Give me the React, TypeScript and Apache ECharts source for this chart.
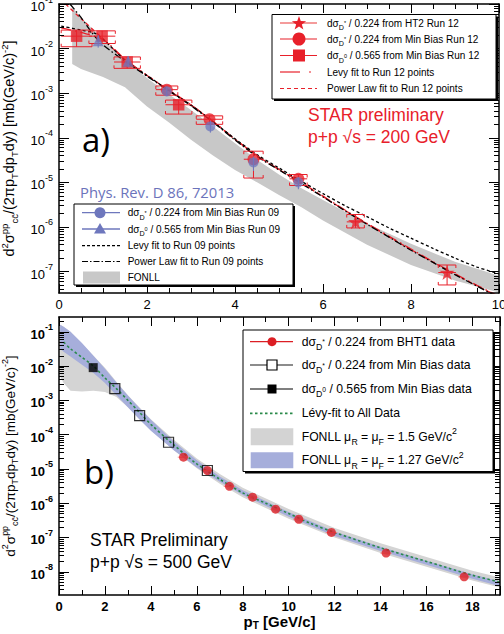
import React, { useEffect, useRef } from 'react';
import * as echarts from 'echarts';

const FONT = "'Liberation Sans', Arial, Helvetica, sans-serif";
const FONT_H = "'Open Sans', 'Liberation Sans', sans-serif";
const RED = '#e8202a';
const RED_B = '#dc1e24';
const BLUE = '#6e77bd';

// ---------- axis ranges and ticks ----------
const aXMax = 10;
const aYMin = 3.3e-8;
const aYMax = 0.1;
const bXMax = 19.2;
const bYMin = 2.1e-9;
const bYMax = 0.27;
const aDecadeLabels = [1e-7, 1e-6, 1e-5, 1e-4, 1e-3, 1e-2, 1e-1];
const bDecadeLabels = [1e-8, 1e-7, 1e-6, 1e-5, 1e-4, 1e-3, 1e-2, 1e-1];
const decadeTicks = [1e-9, 1e-8, 1e-7, 1e-6, 1e-5, 1e-4, 1e-3, 1e-2, 1e-1];
const decadeExps = [-10, -9, -8, -7, -6, -5, -4, -3, -2, -1];
const minorMantissas = [2, 3, 4, 5, 6, 7, 8, 9];

// ---------- panel a: p+p 200 GeV ----------
// Run 12, HT2 D*  (stars)
const aHT2X = [6.74, 8.82];
const aHT2Y = [1.3e-6, 9.5e-8];
const aHT2XErr = [0.2, 0.2];
const aHT2YLo = [9.5e-7, 5.0e-8];
const aHT2YHi = [1.9e-6, 1.4e-7];
// Run 12, Min Bias D* (circles)
const aMBStarX = [2.45, 3.42, 4.42, 5.44];
const aMBStarY = [1.2e-3, 2.6e-4, 3.3e-5, 1.2e-5];
const aMBStarXErr = [0.25, 0.3, 0.22, 0.2];
const aMBStarYLo = [9.0e-4, 2.0e-4, 1.25e-5, 8.5e-6];
const aMBStarYHi = [1.45e-3, 3.1e-4, 5.0e-5, 1.5e-5];
// Run 12, Min Bias D0 (squares)
const aMBD0X = [0.4, 0.98, 1.55, 2.72];
const aMBD0Y = [1.9e-2, 1.9e-2, 5.0e-3, 5.5e-4];
const aMBD0XErr = [0.35, 0.3, 0.3, 0.3];
const aMBD0YLo = [1.1e-2, 1.3e-2, 3.6e-3, 3.4e-4];
const aMBD0YHi = [2.6e-2, 2.5e-2, 6.5e-3, 7.0e-4];
// Run 09 (blue)
const a09StarX = [2.45, 3.44, 4.42, 5.44];
const a09StarY = [1.1e-3, 1.8e-4, 2.8e-5, 1.0e-5];
const a09StarYLo = [8.5e-4, 1.3e-4, 1.8e-5, 7.0e-6];
const a09StarYHi = [1.4e-3, 2.4e-4, 3.8e-5, 1.3e-5];
const a09D0X = [0.89, 1.57];
const a09D0Y = [1.5e-2, 5.2e-3];
const a09D0YLo = [1.05e-2, 3.8e-3];
const a09D0YHi = [2.0e-2, 6.8e-3];

// fits (panel a)
const aPow09X = [0.25, 0.5, 0.9, 1.5, 2.0, 2.5, 3.0, 3.5, 4.0, 4.5, 5.0, 5.5, 6.0, 6.5, 7.0, 7.5, 8.0, 8.5, 9.0, 9.5, 10];
const aPow09Y = [1.0e-1, 5.0e-2, 1.5e-2, 5.2e-3, 2.4e-3, 1.12e-3, 5.2e-4, 2.24e-4, 8.9e-5, 3.8e-5, 1.9e-5, 9.5e-6, 4.7e-6, 2.3e-6, 1.15e-6, 5.9e-7, 3.0e-7, 1.6e-7, 8.5e-8, 4.7e-8, 2.6e-8];
const aLevy09X = [0.05, 0.5, 0.86, 1.2, 1.5, 2.0, 2.5, 3.0, 3.5, 4.0, 4.5, 5.0, 5.5, 6.0, 6.5, 7.0, 7.5, 8.0, 8.5, 9.0, 9.5, 10];
const aLevy09Y = [3.2e-2, 2.6e-2, 2.1e-2, 1.05e-2, 5.5e-3, 2.5e-3, 1.15e-3, 5.4e-4, 2.3e-4, 9.5e-5, 4.2e-5, 2.1e-5, 1.07e-5, 5.6e-6, 3.0e-6, 1.7e-6, 9.5e-7, 5.6e-7, 3.3e-7, 2.0e-7, 1.26e-7, 8.9e-8];
const aLevy12X = [0.05, 0.5, 1.0, 1.5, 2.0, 2.5, 3.0, 3.5, 4.0, 4.5, 5.0, 5.5, 6.0, 6.5, 7.0, 7.5, 8.0, 8.5, 9.0, 9.5, 10];
const aLevy12Y = [2.9e-2, 2.3e-2, 1.6e-2, 5.8e-3, 2.5e-3, 1.17e-3, 5.5e-4, 2.35e-4, 9.3e-5, 4.0e-5, 1.95e-5, 1.0e-5, 4.9e-6, 2.4e-6, 1.2e-6, 6.2e-7, 3.2e-7, 1.66e-7, 8.9e-8, 4.9e-8, 2.8e-8];
const aPow12X = [0.15, 0.5, 1.0, 1.5, 2.0, 2.5, 3.0, 3.5, 4.0, 4.5, 5.0, 5.5, 6.0, 6.5, 7.0, 7.5, 8.0, 8.5, 9.0, 9.5, 10];
const aPow12Y = [1.0e-1, 4.7e-2, 1.66e-2, 5.6e-3, 2.5e-3, 1.15e-3, 5.4e-4, 2.3e-4, 9.2e-5, 3.95e-5, 1.93e-5, 9.8e-6, 4.8e-6, 2.35e-6, 1.18e-6, 6.0e-7, 3.1e-7, 1.62e-7, 8.7e-8, 4.8e-8, 2.7e-8];
// FONLL band (panel a)
const aFonllX = [0.3, 0.5, 1.0, 1.5, 2.0, 2.5, 3.0, 3.5, 4.0, 4.5, 5.0, 5.5, 6.0, 7.0, 8.0, 9.0, 10];
const aFonllHi = [8.5e-2, 5.0e-2, 1.6e-2, 5.5e-3, 2.2e-3, 9.5e-4, 4.2e-4, 1.8e-4, 7.5e-5, 3.2e-5, 1.5e-5, 7.5e-6, 4.0e-6, 1.2e-6, 4.2e-7, 1.65e-7, 8.0e-8];
const aFonllLo = [4.5e-3, 3.5e-3, 2.3e-3, 1.35e-3, 5.0e-4, 2.2e-4, 9.0e-5, 4.0e-5, 1.9e-5, 1.0e-5, 5.2e-6, 2.8e-6, 1.4e-6, 4.0e-7, 1.4e-7, 6.3e-8, 3.4e-8];

// ---------- panel b: p+p 500 GeV ----------
const bBHT1X = [5.42, 6.46, 7.42, 8.43, 9.43, 10.44, 11.86, 14.24, 17.64];
const bBHT1Y = [2.2e-5, 9.0e-6, 3.1e-6, 1.5e-6, 6.7e-7, 3.4e-7, 1.4e-7, 3.5e-8, 7.1e-9];
const bBHT1XErr = [0.25, 0.25, 0.25, 0.25, 0.25, 0.25, 0.25, 0.25, 0.25];
const bMBStarX = [2.43, 3.51, 4.77, 6.46];
const bMBStarY = [2.2e-3, 3.6e-4, 6.0e-5, 9.0e-6];
const bMBD0X = [1.49];
const bMBD0Y = [9.0e-3];
const bLevyX = [0.2, 0.5, 1.0, 1.5, 2.0, 2.5, 3.0, 3.5, 4.0, 5.0, 6.0, 7.0, 8.0, 9.0, 10, 11, 12, 14, 16, 18, 19.2];
const bLevyY = [5.0e-2, 3.2e-2, 1.8e-2, 1.0e-2, 4.5e-3, 2.2e-3, 1.0e-3, 4.5e-4, 2.0e-4, 5.0e-5, 1.4e-5, 5.0e-6, 2.0e-6, 1.0e-6, 5.0e-7, 2.5e-7, 1.4e-7, 5.0e-8, 2.0e-8, 7.9e-9, 5.0e-9];
const bBandX = [0.05, 0.2, 0.5, 1.0, 1.5, 2.0, 2.5, 3.0, 3.5, 4.0, 5.0, 6.0, 7.0, 8.0, 10, 12, 14, 16, 18, 19.2];
const bGrayHi = [1.6e-1, 1.4e-1, 1.0e-1, 4.5e-2, 2.0e-2, 8.9e-3, 3.5e-3, 1.4e-3, 6.3e-4, 2.8e-4, 7.1e-5, 2.0e-5, 7.1e-6, 2.8e-6, 6.8e-7, 1.9e-7, 6.8e-8, 2.7e-8, 1.07e-8, 6.8e-9];
const bGrayLo = [5.0e-3, 3.2e-3, 1.9e-3, 1.8e-3, 1.9e-3, 1.75e-3, 1.26e-3, 6.3e-4, 2.8e-4, 1.35e-4, 3.5e-5, 1.05e-5, 3.7e-6, 1.5e-6, 3.5e-7, 1.0e-7, 3.5e-8, 1.4e-8, 5.6e-9, 3.5e-9];
const bBlueHi = [1.6e-1, 1.4e-1, 1.0e-1, 4.7e-2, 2.0e-2, 8.3e-3, 3.3e-3, 1.38e-3, 6.0e-4, 2.7e-4, 6.3e-5, 1.8e-5, 6.0e-6, 2.4e-6, 5.5e-7, 1.5e-7, 5.4e-8, 2.1e-8, 8.5e-9, 5.2e-9];
const bBlueLo = [3.2e-2, 2.6e-2, 1.9e-2, 1.1e-2, 6.3e-3, 3.2e-3, 1.4e-3, 6.3e-4, 2.8e-4, 1.3e-4, 3.5e-5, 1.1e-5, 4.2e-6, 1.74e-6, 4.0e-7, 1.1e-7, 4.0e-8, 1.6e-8, 6.3e-9, 3.8e-9];

const STAR_PATH = 'path://M50,0L61.8,35.1L98.5,35.1L68.9,56.9L79.9,91.9L50,70.4L20.1,91.9L31.1,56.9L1.5,35.1L38.2,35.1Z';

const zip = (xs: number[], ys: number[]) => xs.map((x, i) => [x, ys[i]]);

function bandSeries(xi: number, yi: number, xs: number[], lo: number[], hi: number[], color: string, z: number) {
  return {
    type: 'custom', xAxisIndex: xi, yAxisIndex: yi, silent: true, z, clip: true,
    data: xs.map((x, i) => [x, lo[i], hi[i]]),
    encode: { x: 0, y: [1, 2] },
    renderItem: (params: any, api: any) => {
      if (params.dataIndex !== 0) return null;
      const up = xs.map((x, i) => api.coord([x, hi[i]]));
      const dn = xs.map((x, i) => api.coord([x, lo[i]])).reverse();
      return { type: 'polygon', shape: { points: up.concat(dn) }, style: { fill: color } };
    },
  };
}

function fitSeries(xi: number, yi: number, xs: number[], ys: number[], color: string, dash: any, width: number, z: number) {
  return {
    type: 'line', xAxisIndex: xi, yAxisIndex: yi, silent: true, z,
    data: zip(xs, ys), showSymbol: false, symbol: 'none', smooth: 0.3,
    lineStyle: { color, width, type: dash },
  };
}

// rows: [x, y, xlo, xhi, ylo, yhi]
function errSeries(xi: number, yi: number, rows: number[][], color: string, brackets: boolean, z: number) {
  return {
    type: 'custom', xAxisIndex: xi, yAxisIndex: yi, silent: true, z, clip: true,
    data: rows,
    encode: { x: [0, 2, 3], y: [1, 4, 5] },
    renderItem: (params: any, api: any) => {
      const x = api.value(0), y = api.value(1);
      const L = api.coord([api.value(2), y]);
      const R = api.coord([api.value(3), y]);
      const B = api.coord([x, api.value(4)]);
      const T = api.coord([x, api.value(5)]);
      const st = { stroke: color, lineWidth: 1, fill: 'none' };
      const ch: any[] = [
        { type: 'line', shape: { x1: L[0], y1: L[1], x2: R[0], y2: R[1] }, style: st },
        { type: 'line', shape: { x1: B[0], y1: B[1], x2: T[0], y2: T[1] }, style: st },
      ];
      if (brackets) {
        ch.push({ type: 'polyline', shape: { points: [[L[0], T[1] + 3], [L[0], T[1]], [R[0], T[1]], [R[0], T[1] + 3]] }, style: st });
        ch.push({ type: 'polyline', shape: { points: [[L[0], B[1] - 3], [L[0], B[1]], [R[0], B[1]], [R[0], B[1] - 3]] }, style: st });
      }
      return { type: 'group', children: ch };
    },
  };
}

function scatterSeries(xi: number, yi: number, xs: number[], ys: number[], symbol: string, size: number, itemStyle: any, z: number) {
  return { type: 'scatter', xAxisIndex: xi, yAxisIndex: yi, silent: true, z, data: zip(xs, ys), symbol, symbolSize: size, itemStyle };
}

function logLabel(v: number) {
  const e = Math.round(Math.log10(v));
  return `{b|10}{s|${e}}`;
}

function yRich(bold: boolean) {
  return {
    b: { fontSize: 13, fontFamily: FONT, fontWeight: bold ? 'bold' : 'normal', color: '#000', lineHeight: 18, verticalAlign: 'bottom' },
    s: { fontSize: 9, fontFamily: FONT, fontWeight: bold ? 'bold' : 'normal', color: '#000', lineHeight: 8, verticalAlign: 'top' },
  };
}

function nameRich(fs: number) {
  return {
    n: { fontSize: fs, fontFamily: FONT, color: '#000', lineHeight: fs * 1.4, verticalAlign: 'middle' },
    sup: { fontSize: fs * 0.66, fontFamily: FONT, color: '#000', lineHeight: fs * 0.7, verticalAlign: 'top' },
    sub: { fontSize: fs * 0.66, fontFamily: FONT, color: '#000', lineHeight: fs * 0.7, verticalAlign: 'bottom' },
  };
}
const Y_NAME = '{n|d}{sup|2}{n|σ}{sup|pp}{sub|cc̄}{n|/(2πp}{sub|T}{n|dp}{sub|T}{n|dy) [mb(GeV/c)}{sup|-2}{n|]}';

function buildMinor() {
  const out: number[] = [];
  decadeExps.forEach((e) => minorMantissas.forEach((m) => out.push(m * Math.pow(10, e))));
  return out;
}

function xAxes(grid: number, max: number, split: number, bold: boolean, withName: boolean) {
  const common = {
    type: 'value', gridIndex: grid, min: 0, max, interval: 2, z: 10,
    axisLine: { show: true, onZero: false, lineStyle: { color: '#000', width: 1.5 } },
    axisTick: { show: true, inside: true, length: 9, lineStyle: { color: '#000', width: 1 } },
    minorTick: { show: true, splitNumber: split, length: 5, lineStyle: { color: '#000', width: 1 } },
    splitLine: { show: false }, minorSplitLine: { show: false },
  };
  return [
    {
      ...common, position: 'bottom',
      axisLabel: { show: true, color: '#000', fontFamily: FONT, fontSize: 13, fontWeight: bold ? 'bold' : 'normal', margin: 5, showMaxLabel: max === 10 },
      name: withName ? '{p|p}{t|T}{p| [GeV/c]}' : '',
      nameLocation: 'middle', nameGap: 12,
      nameTextStyle: {
        rich: {
          p: { fontSize: 15, fontWeight: 'bold', fontFamily: FONT, color: '#000', lineHeight: 18, verticalAlign: 'middle' },
          t: { fontSize: 10, fontWeight: 'bold', fontFamily: FONT, color: '#000', lineHeight: 9, verticalAlign: 'bottom' },
        },
      },
    },
    { ...common, position: 'top', axisLabel: { show: false } },
  ];
}

function yAxes(grid: number, min: number, max: number, labels: number[], bold: boolean, nameSize: number, nameGap: number) {
  const minor = buildMinor();
  const base = { type: 'log', logBase: 10, gridIndex: grid, min, max, z: 10, splitLine: { show: false }, minorTick: { show: false } };
  return [
    {
      ...base, position: 'left',
      axisLine: { show: true, lineStyle: { color: '#000', width: 1.5 } },
      axisTick: { show: true, inside: true, length: 10, customValues: decadeTicks, lineStyle: { color: '#000', width: 1 } },
      axisLabel: { show: true, customValues: labels, formatter: logLabel, rich: yRich(bold), margin: 6 },
      name: Y_NAME, nameLocation: 'middle', nameRotate: 90, nameGap,
      nameTextStyle: { rich: nameRich(nameSize) },
    },
    {
      ...base, position: 'left',
      axisLine: { show: false },
      axisTick: { show: true, inside: true, length: 5, customValues: minor, lineStyle: { color: '#000', width: 1 } },
      axisLabel: { show: false },
    },
    {
      ...base, position: 'right',
      axisLine: { show: true, lineStyle: { color: '#000', width: 1.5 } },
      axisTick: { show: true, inside: true, length: 10, customValues: decadeTicks, lineStyle: { color: '#000', width: 1 } },
      axisLabel: { show: false },
    },
    {
      ...base, position: 'right',
      axisLine: { show: false },
      axisTick: { show: true, inside: true, length: 5, customValues: minor, lineStyle: { color: '#000', width: 1 } },
      axisLabel: { show: false },
    },
  ];
}

// ---------- legend helpers (graphic) ----------
function lrich(fs: number) {
  return {
    sub: { fontSize: fs * 0.72, fontFamily: FONT, fill: '#000', lineHeight: fs * 0.8, verticalAlign: 'bottom' },
    ss: { fontSize: fs * 0.55, fontFamily: FONT, fill: '#000', lineHeight: fs * 0.8, verticalAlign: 'middle' },
    sup: { fontSize: fs * 0.72, fontFamily: FONT, fill: '#000', lineHeight: fs * 0.8, verticalAlign: 'top' },
  };
}
function ltext(x: number, y: number, text: string, fs: number) {
  return {
    type: 'text', x, y, z: 102,
    style: { text, fontSize: fs, fontFamily: FONT, fill: '#000', align: 'left', verticalAlign: 'middle', lineHeight: fs * 1.6, rich: lrich(fs) },
  };
}
function lbox(x: number, y: number, w: number, h: number) {
  return [
    { type: 'rect', z: 100, shape: { x: x + 2, y: y + 2, width: w, height: h }, style: { fill: '#000' } },
    { type: 'rect', z: 101, shape: { x, y, width: w, height: h }, style: { fill: '#fff', stroke: '#000', lineWidth: 1 } },
  ];
}
function lline(x1: number, x2: number, y: number, color: string, width: number, dash?: number[]) {
  return { type: 'line', z: 102, shape: { x1, y1: y, x2, y2: y }, style: { stroke: color, lineWidth: width, lineDash: dash || null } };
}
function starPts(cx: number, cy: number, R: number) {
  const pts: number[][] = [];
  for (let i = 0; i < 10; i++) {
    const r = i % 2 === 0 ? R : R * 0.4;
    const a = -Math.PI / 2 + (i * Math.PI) / 5;
    pts.push([cx + r * Math.cos(a), cy + r * Math.sin(a)]);
  }
  return pts;
}

function buildGraphics() {
  const g: any[] = [];
  // legend a1
  g.push(...lbox(272, 14.5, 224, 84.5));
  const a1y = [23, 39, 55.5, 72, 88.5];
  g.push(lline(280, 317, a1y[0], '#f07a7a', 1.5));
  g.push({ type: 'polygon', z: 103, shape: { points: starPts(299, a1y[0] + 0.5, 7.5) }, style: { fill: RED } });
  g.push(lline(280, 317, a1y[1], RED, 1.2));
  g.push({ type: 'circle', z: 103, shape: { cx: 299, cy: a1y[1], r: 6.5 }, style: { fill: RED } });
  g.push(lline(280, 317, a1y[2], RED, 1.2));
  g.push({ type: 'rect', z: 103, shape: { x: 293, y: a1y[2] - 6, width: 12, height: 12 }, style: { fill: RED } });
  g.push(lline(280, 300, a1y[3], RED, 1.2));
  g.push(lline(309, 311, a1y[3], RED, 1.2));
  g.push(lline(280, 317, a1y[4], RED, 1.2, [4, 3]));
  const a1t = [
    'dσ{sub|D}{ss|*} / 0.224 from HT2 Run 12',
    'dσ{sub|D}{ss|*} / 0.224 from Min Bias Run 12',
    'dσ{sub|D}{ss|0} / 0.565 from Min Bias Run 12',
    'Levy fit to Run 12 points',
    'Power Law fit to Run 12 points',
  ];
  a1t.forEach((t, i) => g.push(ltext(327, a1y[i], t, 10)));

  // legend a2
  g.push(...lbox(74, 204, 219, 81));
  const a2y = [212.7, 229, 245.7, 261.5, 277.5];
  g.push(lline(82, 120, a2y[0], BLUE, 1.3));
  g.push({ type: 'circle', z: 103, shape: { cx: 100, cy: a2y[0], r: 5.5 }, style: { fill: BLUE } });
  g.push(lline(82, 120, a2y[1], BLUE, 1.3));
  g.push({ type: 'polygon', z: 103, shape: { points: [[100, a2y[1] - 6], [106, a2y[1] + 4.5], [94, a2y[1] + 4.5]] }, style: { fill: BLUE } });
  g.push(lline(82, 120, a2y[2], '#000', 1.2, [3, 2]));
  g.push(lline(82, 120, a2y[3], '#000', 1.2, [6, 2, 1.5, 2]));
  g.push({ type: 'rect', z: 103, shape: { x: 83, y: a2y[4] - 6, width: 37, height: 12 }, style: { fill: '#c8c8c8' } });
  const a2t = [
    'dσ{sub|D}{ss|*} / 0.224 from Min Bias Run 09',
    'dσ{sub|D}{ss|0} / 0.565 from Min Bias Run 09',
    'Levy fit to Run 09 points',
    'Power Law fit to Run 09 points',
    'FONLL',
  ];
  a2t.forEach((t, i) => g.push(ltext(127.7, a2y[i], t, 10)));

  // legend b
  g.push(...lbox(243, 330, 250, 141.5));
  const by = [341.7, 365, 389, 413.3, 436.7, 460.3];
  g.push(lline(250, 293, by[0], RED_B, 1.2));
  g.push({ type: 'circle', z: 103, shape: { cx: 272, cy: by[0], r: 4.5 }, style: { fill: RED_B } });
  g.push(lline(250, 293, by[1], '#666', 1.5));
  g.push({ type: 'rect', z: 103, shape: { x: 267, y: by[1] - 5, width: 10, height: 10 }, style: { fill: '#fff', stroke: '#000', lineWidth: 1.2 } });
  g.push(lline(250, 293, by[2], '#000', 1.2));
  g.push({ type: 'rect', z: 103, shape: { x: 267.5, y: by[2] - 4.5, width: 9, height: 9 }, style: { fill: '#000' } });
  g.push(lline(250, 293, by[3], '#2a8a4a', 1.8, [2.5, 2.5]));
  g.push({ type: 'rect', z: 103, shape: { x: 250.7, y: by[4] - 8.5, width: 42.6, height: 17 }, style: { fill: '#d3d3d3' } });
  g.push({ type: 'rect', z: 103, shape: { x: 250.7, y: by[5] - 8, width: 42.6, height: 16 }, style: { fill: '#a6aedb' } });
  const bt = [
    'dσ{sub|D}{ss|*} / 0.224 from BHT1 data',
    'dσ{sub|D}{ss|*} / 0.224 from Min Bias data',
    'dσ{sub|D}{ss|0} / 0.565 from Min Bias data',
    'Lévy-fit to All Data',
    'FONLL μ{sub|R} = μ{sub|F} = 1.5 GeV/c{sup|2}',
    'FONLL μ{sub|R} = μ{sub|F} = 1.27 GeV/c{sup|2}',
  ];
  bt.forEach((t, i) => g.push(ltext(301.7, by[i], t, 12.2)));

  // annotations
  const tx = (x: number, y: number, text: string, fs: number, fill: string, family: string) => ({
    type: 'text', x, y, z: 102, style: { text, fontSize: fs, fontFamily: family, fill, align: 'left', verticalAlign: 'middle' },
  });
  g.push(tx(82, 139, 'a)', 33, '#000', FONT_H));
  g.push(tx(84, 471, 'b)', 33, '#000', FONT_H));
  g.push(tx(308, 115, 'STAR preliminary', 17.5, RED, FONT));
  g.push(tx(308, 137, 'p+p √s = 200 GeV', 17.5, RED, FONT));
  g.push(tx(80, 192, 'Phys. Rev. D 86, 72013', 14.8, '#6b73bb', FONT_H));
  g.push(tx(90, 540, 'STAR Preliminary', 17.5, '#000', FONT));
  g.push(tx(90, 562, 'p+p √s = 500 GeV', 17.5, '#000', FONT));
  return g;
}

function buildOption() {
  const rowsErr = (xs: number[], ys: number[], xe: number[] | null, lo: number[] | null, hi: number[] | null) =>
    xs.map((x, i) => [x, ys[i], xe ? x - xe[i] : x, xe ? x + xe[i] : x, lo ? lo[i] : ys[i], hi ? hi[i] : ys[i]]);

  const series: any[] = [
    // panel a
    bandSeries(0, 0, aFonllX, aFonllLo, aFonllHi, '#c8c8c8', 1),
    fitSeries(0, 0, aLevy12X, aLevy12Y, RED, [10, 4, 1.5, 4], 1.3, 2),
    fitSeries(0, 0, aPow12X, aPow12Y, RED, [4, 3], 1.3, 2),
    fitSeries(0, 0, aLevy09X, aLevy09Y, '#000', [3, 2.5], 1.3, 2),
    fitSeries(0, 0, aPow09X, aPow09Y, '#000', [7, 2.5, 1.5, 2.5], 1.3, 2),
    errSeries(0, 0, rowsErr(aHT2X, aHT2Y, aHT2XErr, aHT2YLo, aHT2YHi), RED, true, 3),
    errSeries(0, 0, rowsErr(aMBStarX, aMBStarY, aMBStarXErr, aMBStarYLo, aMBStarYHi), RED, true, 3),
    errSeries(0, 0, rowsErr(aMBD0X, aMBD0Y, aMBD0XErr, aMBD0YLo, aMBD0YHi), RED, true, 3),
    scatterSeries(0, 0, aHT2X, aHT2Y, STAR_PATH, 15, { color: RED }, 4),
    scatterSeries(0, 0, aMBStarX, aMBStarY, 'circle', 12, { color: RED }, 4),
    scatterSeries(0, 0, aMBD0X, aMBD0Y, 'rect', 11.5, { color: RED }, 4),
    errSeries(0, 0, rowsErr(a09StarX, a09StarY, null, a09StarYLo, a09StarYHi), BLUE, false, 5),
    errSeries(0, 0, rowsErr(a09D0X, a09D0Y, null, a09D0YLo, a09D0YHi), BLUE, false, 5),
    scatterSeries(0, 0, a09StarX, a09StarY, 'circle', 10, { color: BLUE, opacity: 0.75 }, 6),
    scatterSeries(0, 0, a09D0X, a09D0Y, 'triangle', 11, { color: BLUE, opacity: 0.75 }, 6),
    // panel b
    bandSeries(2, 4, bBandX, bGrayLo, bGrayHi, '#d4d4d4', 1),
    bandSeries(2, 4, bBandX, bBlueLo, bBlueHi, '#a6aedb', 1),
    fitSeries(2, 4, bLevyX, bLevyY, '#2a8a4a', [2.5, 2.5], 1.6, 2),
    errSeries(2, 4, rowsErr(bBHT1X, bBHT1Y, bBHT1XErr, null, null), '#f08a8a', false, 3),
    scatterSeries(2, 4, bBHT1X, bBHT1Y, 'circle', 9, { color: RED_B }, 4),
    scatterSeries(2, 4, bMBStarX, bMBStarY, 'rect', 10, { color: 'rgba(0,0,0,0)', borderColor: '#000', borderWidth: 1.2 }, 4),
    scatterSeries(2, 4, bMBD0X, bMBD0Y, 'rect', 9, { color: '#000' }, 4),
  ];

  return {
    animation: false,
    backgroundColor: '#fff',
    grid: [
      { left: 59, top: 4, width: 440, height: 289, outerBoundsMode: 'none', containLabel: false },
      { left: 59, top: 317, width: 441, height: 278, outerBoundsMode: 'none', containLabel: false },
    ],
    xAxis: [...xAxes(0, aXMax, 4, false, false), ...xAxes(1, bXMax, 2, true, true)],
    yAxis: [...yAxes(0, aYMin, aYMax, aDecadeLabels, false, 14.5, 34), ...yAxes(1, bYMin, bYMax, bDecadeLabels, true, 13.5, 35)],
    series,
    graphic: { elements: buildGraphics() },
  };
}

export default function App() {
  const ref = useRef<HTMLDivElement>(null);
  useEffect(() => {
    if (!ref.current) return;
    const chart = echarts.init(ref.current, undefined, { renderer: 'svg' });
    chart.setOption(buildOption() as any);
    return () => chart.dispose();
  }, []);
  return <div ref={ref} style={{ position: 'absolute', left: 0, top: 0, width: 504, height: 634, background: '#fff' }} />;
}
